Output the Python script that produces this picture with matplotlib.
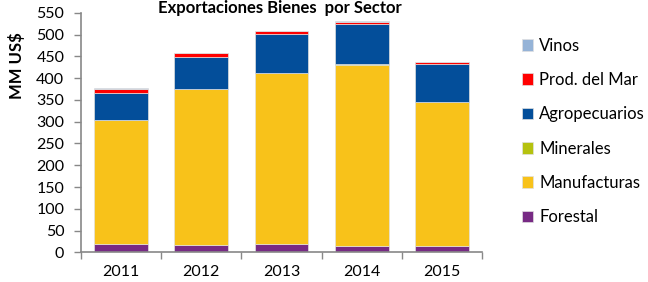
import matplotlib.pyplot as plt
import numpy as np

plt.rcParams['font.family'] = ['Lato', 'DejaVu Sans']

years = ['2011', '2012', '2013', '2014', '2015']
forestal = [18, 16, 18, 15, 15]
manufacturas = [286, 359, 393, 416, 330]
minerales = [0.5, 0.5, 0.5, 0.5, 0.5]
agropecuarios = [62, 73, 89, 92, 87]
prod_mar = [9, 9, 8, 6, 4]
vinos = [1, 1.5, 1, 1, 1]

series = [('Forestal', forestal, '#772A84'),
          ('Manufacturas', manufacturas, '#F8C21A'),
          ('Minerales', minerales, '#B5C20F'),
          ('Agropecuarios', agropecuarios, '#034E9A'),
          ('Prod. del Mar', prod_mar, '#FF0000'),
          ('Vinos', vinos, '#95B3D7')]

fig = plt.figure(figsize=(6.48, 2.82), dpi=100)
ax = fig.add_axes([0.125, 0.1053, 0.619, 0.849])

x = np.arange(len(years))
bottom = np.zeros(len(years))
handles = []
for name, vals, col in series:
    b = ax.bar(x, vals, 0.67, bottom=bottom, color=col, label=name,
               edgecolor='#e0e0e0', linewidth=0.5)
    handles.append(b)
    bottom += np.array(vals)

ax.set_xlim(-0.5, 4.5)
ax.set_ylim(0, 550)
ax.set_yticks(range(0, 551, 50))
ax.set_xticks(x)
ax.set_xticklabels(years, fontsize=11.5)
ax.tick_params(axis='x', length=0, pad=9)
ax.set_xticks(np.arange(-0.5, 5, 1), minor=True)
ax.tick_params(axis='x', which='minor', length=5, color='#888888', width=1)
ax.tick_params(axis='y', labelsize=11.5, length=5, color='#888888', width=1, pad=7)

for s in ['top', 'right']:
    ax.spines[s].set_visible(False)
for s in ['left', 'bottom']:
    ax.spines[s].set_color('#888888')
    ax.spines[s].set_linewidth(1.2)

ax.set_ylabel('MM US$', fontsize=12, fontweight='bold')
ax.yaxis.set_label_coords(-0.14, 0.78)
fig.text(0.432, 1.0, 'Exportaciones Bienes  por Sector', ha='center', va='top',
         fontsize=12, fontweight='bold')

leg = fig.legend(handles[::-1], [h.get_label() for h in handles[::-1]],
                 loc='upper left', bbox_to_anchor=(0.795, 0.89), frameon=False,
                 fontsize=12, handlelength=0.7, handleheight=0.7,
                 handletextpad=0.35, labelspacing=1.1, borderaxespad=0)

fig.savefig('out.png', dpi=100)
